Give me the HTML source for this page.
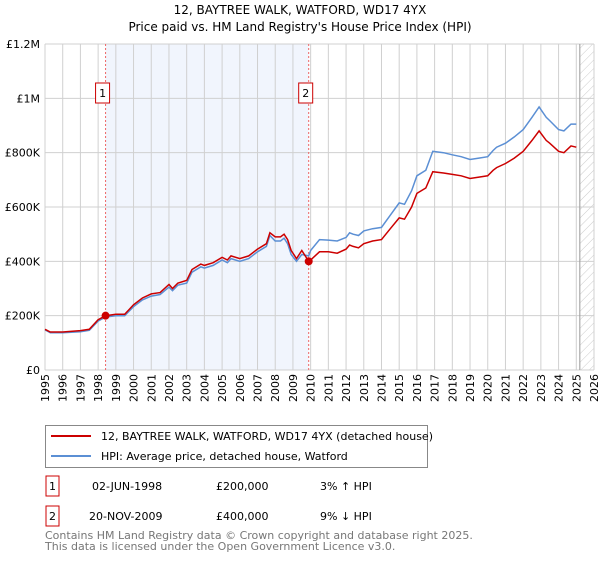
<!DOCTYPE html>
<html><head><meta charset="utf-8"><style>
body{margin:0;background:#fff;font-family:"Liberation Sans","DejaVu Sans",sans-serif;}
svg text{font-family:"DejaVu Sans","Liberation Sans",sans-serif;}
</style></head><body>
<svg width="600" height="560" xmlns="http://www.w3.org/2000/svg">
<defs><pattern id="hatch" width="6" height="6" patternUnits="userSpaceOnUse" patternTransform="rotate(45)"><line x1="0" y1="0" x2="0" y2="6" stroke="#ccc" stroke-width="1"/></pattern></defs>
<text x="300" y="14" text-anchor="middle" font-size="12">12, BAYTREE WALK, WATFORD, WD17 4YX</text>
<text x="300" y="31" text-anchor="middle" font-size="12">Price paid vs. HM Land Registry's House Price Index (HPI)</text>
<g id="plot"></g>
<g>
<rect x="45.5" y="425.5" width="382" height="42" fill="#fff" stroke="#888"/>
<line x1="51" y1="436" x2="91" y2="436" stroke="#cc0000" stroke-width="2"/>
<text x="101" y="440" font-size="11">12, BAYTREE WALK, WATFORD, WD17 4YX (detached house)</text>
<line x1="51" y1="456" x2="91" y2="456" stroke="#5b8fd4" stroke-width="2"/>
<text x="101" y="460" font-size="11">HPI: Average price, detached house, Watford</text>
</g>
<g font-size="11">
<rect x="46" y="476" width="13" height="20" fill="#fff" stroke="#cc0000"/><text x="52.5" y="490" text-anchor="middle">1</text>
<text x="92" y="490">02-JUN-1998</text><text x="216" y="490">£200,000</text><text x="320" y="490">3% ↑ HPI</text>
<rect x="46" y="506" width="13" height="20" fill="#fff" stroke="#cc0000"/><text x="52.5" y="520" text-anchor="middle">2</text>
<text x="89" y="520">20-NOV-2009</text><text x="216" y="520">£400,000</text><text x="320" y="520">9% ↓ HPI</text>
</g>
<text x="45" y="539" font-size="11" fill="#777">Contains HM Land Registry data © Crown copyright and database right 2025.</text>
<text x="45" y="550" font-size="11" fill="#777">This data is licensed under the Open Government Licence v3.0.</text>
</svg>
<script>
const dates=[1995,1995.3,1996,1997,1997.5,1998,1998.42,1999,1999.5,2000,2000.5,2001,2001.5,2002,2002.2,2002.5,2003,2003.3,2003.8,2004,2004.5,2005,2005.3,2005.5,2006,2006.5,2007,2007.5,2007.7,2008,2008.3,2008.5,2008.7,2008.9,2009.2,2009.5,2009.89,2010,2010.5,2011,2011.5,2012,2012.2,2012.4,2012.7,2013,2013.5,2014,2014.5,2015,2015.3,2015.7,2016,2016.5,2016.9,2017.5,2018,2018.5,2019,2019.5,2020,2020.3,2020.5,2021,2021.5,2022,2022.5,2022.9,2023.3,2023.5,2024,2024.3,2024.7,2025];
const priceK=[150,140,140,145,150,185,200,205,205,240,265,280,285,315,300,320,330,370,390,385,395,415,405,420,410,420,445,465,505,490,490,500,480,440,410,440,400,405,435,435,430,445,460,455,450,465,475,480,520,560,555,600,650,670,730,725,720,715,705,710,715,735,745,760,780,805,845,880,845,835,805,800,825,820];
const hpiK=[148,137,137,141,146,180,195,200,200,233,258,272,278,305,292,312,320,360,380,375,385,405,395,410,400,410,435,455,495,475,475,485,465,425,400,425,420,440,480,478,475,488,505,500,495,512,520,525,570,615,610,660,715,735,805,800,792,785,775,780,785,808,820,835,858,885,930,968,930,918,885,880,905,905];
const saleDates=[1998.42,2009.89];
const salePricesK=[200,400];
const saleLabels=["1","2"];
const yTicks=[0,200,400,600,800,1000,1200];
const yTickLabels=["£0","£200K","£400K","£600K","£800K","£1M","£1.2M"];
const xYears=[1995,1996,1997,1998,1999,2000,2001,2002,2003,2004,2005,2006,2007,2008,2009,2010,2011,2012,2013,2014,2015,2016,2017,2018,2019,2020,2021,2022,2023,2024,2025,2026];
const X0=45,X1=594,Y0=370,Y1=44,T0=1995,T1=2026,VMAX=1200,HATCH=2025.2;
const xs=t=>X0+(t-T0)/(T1-T0)*(X1-X0);
const ys=v=>Y0-v/VMAX*(Y0-Y1);
const NS="http://www.w3.org/2000/svg";
const g=document.getElementById('plot');
function mk(tag,attrs,parent){const e=document.createElementNS(NS,tag);for(const k in attrs)e.setAttribute(k,attrs[k]);(parent||g).appendChild(e);return e;}
let e;
e=mk('rect',{x:xs(saleDates[0]),y:Y1,width:xs(saleDates[1])-xs(saleDates[0]),height:Y0-Y1,fill:'#eef3fc',opacity:0.8});


e=mk('rect',{x:xs(HATCH),y:Y1,width:X1-xs(HATCH),height:Y0-Y1,fill:'url(#hatch)'});


xYears.forEach(yr=>{
 e=mk('line',{x1:xs(yr),x2:xs(yr),y1:Y1,y2:Y0,stroke:'#d0d0d0','stroke-width':1});
 
 
 e=mk('text',{x:0,y:0,'font-size':11,'text-anchor':'end',transform:`translate(${xs(yr)+4},374) rotate(-90)`});
 e.textContent=yr;
 
 
});
yTicks.forEach((v,i)=>{
 e=mk('line',{x1:X0,x2:X1,y1:ys(v),y2:ys(v),stroke:'#d0d0d0','stroke-width':1});
 
 
 e=mk('text',{x:40,y:ys(v)+4,'font-size':11,'text-anchor':'end'});
 e.textContent=yTickLabels[i];
 
 
});
e=mk('line',{x1:xs(HATCH),x2:xs(HATCH),y1:Y1,y2:Y0,stroke:'#999','stroke-width':1});


saleDates.forEach((d,i)=>{
 e=mk('line',{x1:xs(d),x2:xs(d),y1:Y1,y2:Y0,stroke:'#e66','stroke-width':1,'stroke-dasharray':'2,2'});
 
 
});
const pathOf=arr=>arr.map((v,i)=>(i?'L':'M')+xs(dates[i]).toFixed(1)+','+ys(v).toFixed(1)).join('');
e=mk('path',{d:pathOf(hpiK),fill:'none',stroke:'#5b8fd4','stroke-width':1.5});


e=mk('path',{d:pathOf(priceK),fill:'none',stroke:'#cc0000','stroke-width':1.5});


saleDates.forEach((d,i)=>{
 e=mk('circle',{cx:xs(d),cy:ys(salePricesK[i]),r:4,fill:'#cc0000'});
 
 
 e=mk('rect',{x:xs(d)-10,y:83,width:14,height:20,fill:'#fff',stroke:'#cc0000'});
 
 
 e=mk('text',{x:xs(d)-3,y:97,'font-size':11,'text-anchor':'middle'});
 e.textContent=saleLabels[i];
 
 
});
</script>
</body></html>
